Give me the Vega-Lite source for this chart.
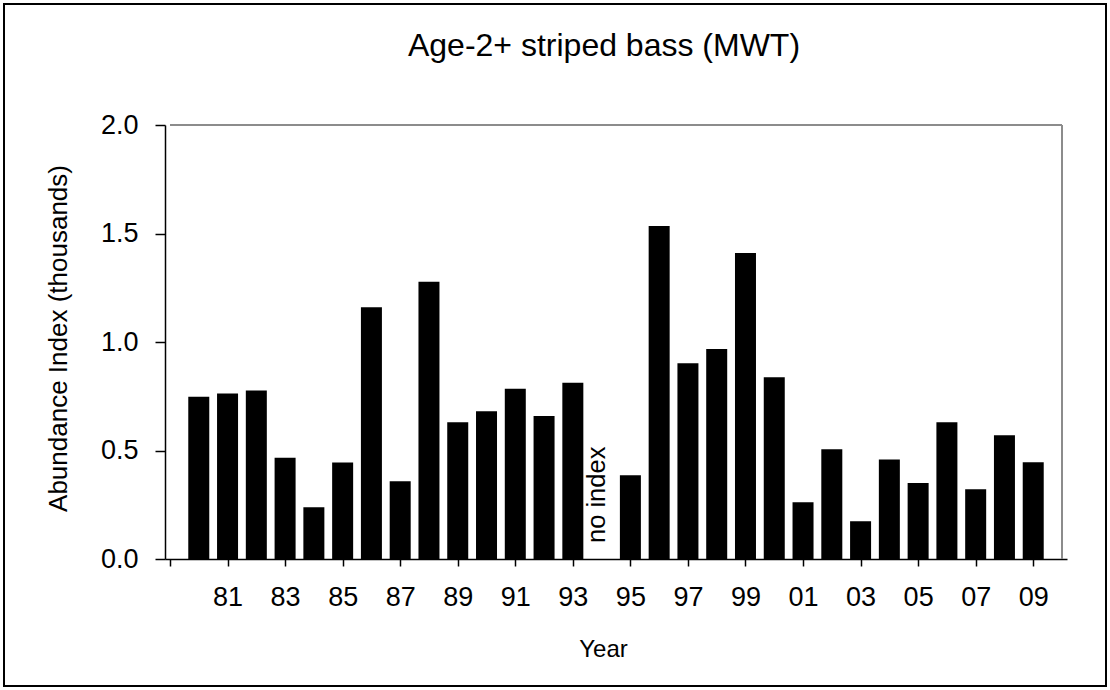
{
  "$schema": "https://vega.github.io/schema/vega-lite/v6.json",
  "width": 1102,
  "height": 682,
  "autosize": {"type": "none"},
  "padding": {"left": 4, "top": 4, "right": 4, "bottom": 4},
  "background": "white",
  "config": {
    "font": "Liberation Sans, Arial, sans-serif",
    "view": {"stroke": "black", "strokeWidth": 2}
  },
  "title": {
    "text": "Age-2+ striped bass (MWT)",
    "fontSize": 32,
    "fontWeight": "normal",
    "color": "black",
    "anchor": "middle",
    "frame": "group",
    "orient": "top",
    "offset": -59,
    "dx": 49
  },
  "data": {
    "values": [
      {"year": 1980, "index": 0.748},
      {"year": 1981, "index": 0.763},
      {"year": 1982, "index": 0.777},
      {"year": 1983, "index": 0.467},
      {"year": 1984, "index": 0.238},
      {"year": 1985, "index": 0.445},
      {"year": 1986, "index": 1.160},
      {"year": 1987, "index": 0.358},
      {"year": 1988, "index": 1.278},
      {"year": 1989, "index": 0.630},
      {"year": 1990, "index": 0.681},
      {"year": 1991, "index": 0.785},
      {"year": 1992, "index": 0.659},
      {"year": 1993, "index": 0.812},
      {"year": 1994, "index": null, "note": "no index"},
      {"year": 1995, "index": 0.386},
      {"year": 1996, "index": 1.535},
      {"year": 1997, "index": 0.902},
      {"year": 1998, "index": 0.968},
      {"year": 1999, "index": 1.410},
      {"year": 2000, "index": 0.837},
      {"year": 2001, "index": 0.261},
      {"year": 2002, "index": 0.506},
      {"year": 2003, "index": 0.174},
      {"year": 2004, "index": 0.459},
      {"year": 2005, "index": 0.350},
      {"year": 2006, "index": 0.630},
      {"year": 2007, "index": 0.321},
      {"year": 2008, "index": 0.570},
      {"year": 2009, "index": 0.446}
    ]
  },
  "layer": [
    {
      "transform": [{"filter": "isValid(datum.index)"}],
      "mark": {"type": "bar", "color": "black", "width": 21},
      "encoding": {
        "x": {
          "field": "year",
          "type": "quantitative",
          "title": "Year",
          "scale": {"domain": [1979, 2010], "range": [161, 1063], "nice": false, "zero": false},
          "axis": {
            "values": [1979,1980,1981,1982,1983,1984,1985,1986,1987,1988,1989,1990,1991,1992,1993,1994,1995,1996,1997,1998,1999,2000,2001,2002,2003,2004,2005,2006,2007,2008,2009],
            "labelExpr": "(datum.value % 2 == 1 && datum.value > 1980) ? slice(toString(datum.value), 2) : ''",
            "labelOverlap": false,
            "labelFlush": false,
            "offset": -127,
            "grid": false,
            "tickSize": 7,
            "tickWidth": 1.5,
            "tickColor": "black",
            "domainColor": "black",
            "domainWidth": 1.5,
            "labelFontSize": 27,
            "labelColor": "black",
            "labelPadding": 18,
            "titleFontSize": 24,
            "titleFontWeight": "normal",
            "titleColor": "black",
            "titleX": 599,
            "titleY": 90,
            "titleAlign": "center",
            "titleBaseline": "middle"
          }
        },
        "y": {
          "field": "index",
          "type": "quantitative",
          "title": "Abundance Index (thousands)",
          "scale": {"domain": [0, 2], "range": [555, 121], "nice": false},
          "axis": {
            "values": [0, 0.5, 1, 1.5, 2],
            "format": ".1f",
            "offset": -161,
            "grid": false,
            "tickSize": 10,
            "tickWidth": 1.5,
            "tickColor": "black",
            "domainColor": "black",
            "domainWidth": 1.5,
            "labelFontSize": 27,
            "labelColor": "black",
            "labelPadding": 17,
            "titleFontSize": 26,
            "titleFontWeight": "normal",
            "titleColor": "black",
            "titleX": -107,
            "titleY": 334,
            "titleAngle": 270,
            "titleAlign": "center",
            "titleBaseline": "middle"
          }
        }
      }
    },
    {
      "mark": {"type": "rule", "color": "#8c8c8c", "strokeWidth": 2},
      "encoding": {
        "x": {"datum": 1979, "type": "quantitative", "title": "Year"},
        "x2": {"datum": 2010},
        "y": {"datum": 2, "type": "quantitative", "title": "Abundance Index (thousands)"}
      }
    },
    {
      "mark": {"type": "rule", "color": "#8c8c8c", "strokeWidth": 2},
      "encoding": {
        "x": {"datum": 2010, "type": "quantitative", "title": "Year"},
        "y": {"datum": 0, "type": "quantitative", "title": "Abundance Index (thousands)"},
        "y2": {"datum": 2}
      }
    },
    {
      "transform": [{"filter": "isValid(datum.note)"}],
      "mark": {"type": "text", "angle": 270, "align": "left", "baseline": "middle", "fontSize": 25.5, "color": "black", "dx": 16, "dy": -5},
      "encoding": {
        "x": {"field": "year", "type": "quantitative", "title": "Year"},
        "y": {"datum": 0, "type": "quantitative", "title": "Abundance Index (thousands)"},
        "text": {"field": "note"}
      }
    }
  ]
}
